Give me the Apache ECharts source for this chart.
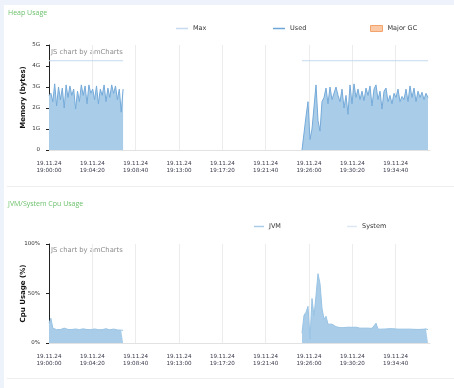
<!DOCTYPE html>
<html>
<head>
<meta charset="utf-8">
<script src="https://cdn.jsdelivr.net/npm/echarts@6/dist/echarts.min.js"></script>
<style>
  html, body { margin: 0; padding: 0; }
  body { width: 454px; height: 388px; background: #eef2fa; position: relative; overflow: hidden; }
  #panel { position: absolute; left: 4px; top: 5px; width: 450px; height: 383px; background: #fff; }
  .sep { position: absolute; left: 7px; width: 447px; height: 1px; background: #eeeeee; }
  #chart { position: absolute; left: 0; top: 0; width: 454px; height: 388px; }
</style>
</head>
<body>
<div id="panel"></div>
<div class="sep" style="top:186px"></div>
<div class="sep" style="top:378px"></div>
<div id="chart"></div>
<script>
// ---- data ----
const dateLabel = '19.11.24';
const startClockSec = 19 * 3600;          // 19:00:00
const tickIntervalSec = 260;              // 4m20s
const axisMaxSec = 2286;

// sampling grid of the two recorded segments (seconds after 19:00:00)
const seg1StartSec = 0, seg1StepSec = 11.4;
const seg2StartSec = 1518, seg2StepSec = 12;

// Heap used (GB)
const heapUsedSeg1 = [2.6, 2.7, 2.3, 3.15, 2.1, 3.0, 2.4, 2.95, 2.0, 3.1,
  2.5, 3.05, 2.6, 2.9, 1.95, 2.8, 2.3, 3.1, 2.6, 3.05,
  2.2, 3.1, 2.7, 2.9, 2.4, 3.05, 2.2, 2.9, 2.6, 3.1,
  2.3, 2.95, 2.5, 3.1, 2.7, 3.05, 2.4, 2.9, 1.8, 2.9];
const heapUsedSeg2 = [0, 0.8, 1.6, 2.3, 0.5, 1.0, 0.95, 3.1, 1.4, 0.9,
  2.3, 2.5, 2.95, 2.2, 3.0, 2.4, 2.45, 3.0, 2.6, 2.3,
  2.9, 2.0, 2.6, 1.7, 3.1, 2.2, 3.15, 2.5, 2.9, 2.4,
  2.8, 2.35, 2.95, 2.6, 3.05, 2.1, 2.9, 3.1, 2.4, 2.8,
  1.95, 2.8, 2.95, 2.3, 2.6, 2.2, 2.7, 2.5, 2.9, 2.3,
  2.55, 2.4, 2.9, 2.3, 3.05, 2.5, 2.95, 2.3, 2.8, 2.5,
  2.75, 2.4, 2.7, 2.5];
// Heap max (GB), per segment start/end
const heapMaxTimes = [0, 444.6, 1518, 2274];
const heapMaxValues = [4.25, 4.25, 4.25, 4.25];

// JVM CPU (%)
const cpuJvmSeg1 = [20, 25, 15, 13.8, 13.5, 14, 13.6, 13.8, 15, 13.5,
  13.7, 14, 13.6, 13.8, 14.2, 13.6, 13.5, 14, 14.3, 13.8,
  13.6, 14, 13.5, 13.9, 14.2, 13.6, 13.4, 13.8, 13.5, 13.9,
  14.4, 13.6, 13.3, 13.7, 14.1, 13.5, 13.2, 13.4, 13.0, 12.8];
const cpuJvmSeg2 = [10, 28, 31, 37, 4, 45, 27, 48, 70, 60,
  35, 24, 27, 19, 21, 19, 17, 16.5, 15, 15.5,
  15, 15.5, 15, 16, 15.2, 15.8, 15, 16, 15.3, 15,
  15.5, 15, 17, 15, 14.6, 14.8, 15, 20, 14, 14.2,
  14, 15, 14.2, 14, 14.5, 14, 14.3, 15, 14, 14.2,
  14, 14.8, 14, 13.8, 14, 14.5, 13.8, 14, 13.7, 14.3,
  13.8, 14, 14.2, 13.5];

// ---- build ----
function pairs(vals, start, step) { return vals.map((v, i) => [start + i * step, v]); }
const gapSec = 980;
const heapUsedData = pairs(heapUsedSeg1, seg1StartSec, seg1StepSec)
  .concat([[gapSec, null]]).concat(pairs(heapUsedSeg2, seg2StartSec, seg2StepSec));
const cpuJvmData = pairs(cpuJvmSeg1, seg1StartSec, seg1StepSec)
  .concat([[gapSec, null]]).concat(pairs(cpuJvmSeg2, seg2StartSec, seg2StepSec));
const heapMaxData = [[heapMaxTimes[0], heapMaxValues[0]], [heapMaxTimes[1], heapMaxValues[1]],
  [gapSec, null], [heapMaxTimes[2], heapMaxValues[2]], [heapMaxTimes[3], heapMaxValues[3]]];

function pad(n) { return (n < 10 ? '0' : '') + n; }
function timeLabel(v) {
  const t = startClockSec + Math.round(v);
  const h = Math.floor(t / 3600), m = Math.floor((t % 3600) / 60), s = t % 60;
  return dateLabel + '\n' + pad(h) + ':' + pad(m) + ':' + pad(s);
}

const FONT = 'DejaVu Sans';
function xAxisCfg(gi) {
  return {
    type: 'value', gridIndex: gi, min: 0, max: axisMaxSec, interval: tickIntervalSec,
    axisLine: { show: true, lineStyle: { color: '#e2e2e2', width: 1 } },
    axisTick: { show: false },
    axisLabel: { formatter: timeLabel, fontSize: 5.6, lineHeight: 7, color: '#3a3a4e',
      margin: 10, showMaxLabel: false, fontFamily: FONT },
    splitLine: { show: true, showMinLine: false, showMaxLine: false,
      lineStyle: { color: '#ececec', width: 1 } }
  };
}
function yAxisCfg(gi, max, interval, fmt, name, gap) {
  return {
    type: 'value', gridIndex: gi, min: 0, max: max, interval: interval,
    axisLine: { show: true, lineStyle: { color: '#222', width: 1 } },
    axisTick: { show: true, length: 3, lineStyle: { color: '#222' } },
    splitLine: { show: false },
    axisLabel: { formatter: fmt, fontSize: 5.5, color: '#333', margin: 9, fontFamily: FONT },
    name: name, nameLocation: 'middle', nameGap: gap, nameMoveOverlap: false,
    nameTextStyle: { fontSize: 7, fontWeight: 'bold', color: '#111', fontFamily: FONT }
  };
}
function legendCfg(name, left, top, w, h, itemStyle) {
  return {
    left: left, top: top, padding: 0, icon: 'rect', itemWidth: w, itemHeight: h,
    selectedMode: false,
    textStyle: { fontSize: 6.5, color: '#333', fontFamily: FONT },
    data: [{ name: name, itemStyle: itemStyle }]
  };
}

const chart = echarts.init(document.getElementById('chart'), null, { renderer: 'canvas' });
chart.setOption({
  animation: false,
  backgroundColor: 'transparent',
  title: [
    { text: 'Heap Usage', left: 8, top: 9, padding: 0,
      textStyle: { fontSize: 7, color: '#6cc06c', fontWeight: 'normal', fontFamily: 'Open Sans' } },
    { text: 'JVM/System Cpu Usage', left: 8, top: 200, padding: 0,
      textStyle: { fontSize: 7, color: '#6cc06c', fontWeight: 'normal', fontFamily: 'Open Sans' } }
  ],
  legend: [
    legendCfg('Max', 176, 25, 12, 1.5, { color: '#c6daf0' }),
    legendCfg('Used', 273, 25, 12, 1.5, { color: '#6ea6d8' }),
    legendCfg('Major GC', 370, 25, 12, 6, { color: '#fcc9a6', borderColor: '#f3a46c', borderWidth: 1 }),
    legendCfg('JVM', 254, 223, 10, 1.5, { color: '#a8cce8' }),
    legendCfg('System', 347, 223, 10, 1.5, { color: '#dde8f4' })
  ],
  grid: [
    { left: 49, top: 45, width: 381, height: 105 },
    { left: 49, top: 244, width: 381, height: 99 }
  ],
  xAxis: [xAxisCfg(0), xAxisCfg(1)],
  yAxis: [
    yAxisCfg(0, 5, 1, v => (v === 0 ? '0' : v + 'G'), 'Memory (bytes)', 22),
    yAxisCfg(1, 100, 50, v => v + '%', 'Cpu Usage (%)', 22)
  ],
  graphic: [
    { type: 'text', left: 51, top: 49, silent: true,
      style: { text: 'JS chart by amCharts', fill: '#8c8c8c', font: '6.8px "DejaVu Sans"' } },
    { type: 'text', left: 51, top: 246.5, silent: true,
      style: { text: 'JS chart by amCharts', fill: '#8c8c8c', font: '6.8px "DejaVu Sans"' } }
  ],
  series: [
    { name: 'Max', type: 'line', xAxisIndex: 0, yAxisIndex: 0, data: heapMaxData,
      symbol: 'none', connectNulls: false, silent: true,
      lineStyle: { color: '#c6daf0', width: 1 }, itemStyle: { color: '#c6daf0' } },
    { name: 'Used', type: 'line', xAxisIndex: 0, yAxisIndex: 0, data: heapUsedData,
      symbol: 'none', connectNulls: false, silent: true,
      lineStyle: { color: '#75aad9', width: 1 }, itemStyle: { color: '#75aad9' },
      areaStyle: { color: '#a9cde8', opacity: 1 } },
    { name: 'Major GC', type: 'line', xAxisIndex: 0, yAxisIndex: 0, data: [],
      symbol: 'none', itemStyle: { color: '#fcc9a6' } },
    { name: 'JVM', type: 'line', xAxisIndex: 1, yAxisIndex: 1, data: cpuJvmData,
      symbol: 'none', connectNulls: false, silent: true,
      lineStyle: { color: '#98c3e4', width: 1 }, itemStyle: { color: '#a8cce8' },
      areaStyle: { color: '#a9cde8', opacity: 1 } },
    { name: 'System', type: 'line', xAxisIndex: 1, yAxisIndex: 1, data: [],
      symbol: 'none', itemStyle: { color: '#dde8f4' } }
  ]
});
</script>
</body>
</html>
